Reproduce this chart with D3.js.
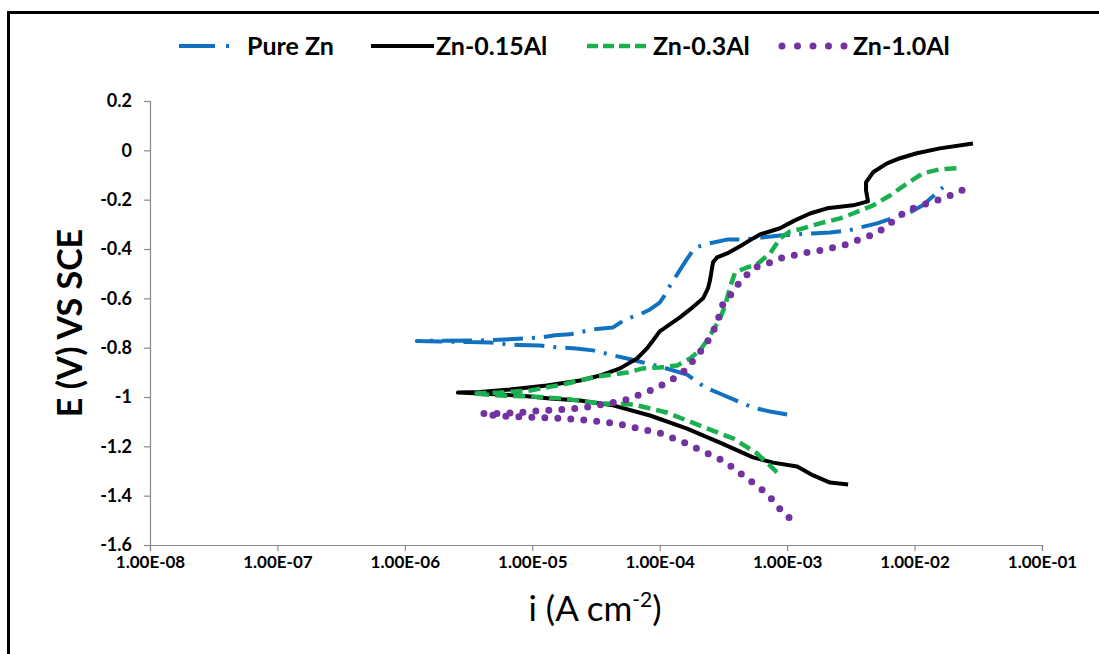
<!DOCTYPE html>
<html>
<head>
<meta charset="utf-8">
<script src="https://cdn.jsdelivr.net/npm/d3@7/dist/d3.min.js"></script>
<style>
  html, body { margin: 0; padding: 0; background: #fff; }
  svg { display: block; }
</style>
</head>
<body>
<svg id="chart" width="1099" height="654"></svg>
<script>
// Potentiodynamic polarization curves: [current density (A cm-2), potential (V vs SCE)]
// Each curve runs from the cathodic end, through Ecorr, up the anodic branch.
const pureZn = [
  [1.00e-3,-1.071],[7.35e-4,-1.059],[5.40e-4,-1.043],[4.12e-4,-1.018],[3.08e-4,-0.990],
  [2.27e-4,-0.961],[1.64e-4,-0.909],[1.00e-4,-0.876],[7.39e-5,-0.860],[5.54e-5,-0.844],
  [4.07e-5,-0.828],[2.99e-5,-0.811],[2.20e-5,-0.803],[1.59e-5,-0.799],[1.15e-5,-0.791],
  [8.00e-6,-0.789],[6.44e-6,-0.787],[4.66e-6,-0.779],[3.24e-6,-0.777],[1.89e-6,-0.775],
  [1.24e-6,-0.773],
  [1.89e-6,-0.772],[3.24e-6,-0.771],[4.66e-6,-0.770],[6.11e-6,-0.767],[8.45e-6,-0.763],
  [1.15e-5,-0.759],[1.51e-5,-0.750],[1.98e-5,-0.746],[2.99e-5,-0.726],[4.30e-5,-0.718],
  [5.34e-5,-0.686],[7.00e-5,-0.665],[8.39e-5,-0.645],[1.00e-4,-0.617],[1.08e-4,-0.592],
  [1.14e-4,-0.568],[1.34e-4,-0.511],[1.61e-4,-0.446],[1.89e-4,-0.394],[2.48e-4,-0.377],
  [3.44e-4,-0.361],[4.67e-4,-0.361],[8.80e-4,-0.345],[1.57e-3,-0.337],[2.17e-3,-0.333],
  [3.01e-3,-0.325],[3.54e-3,-0.316],[5.08e-3,-0.296],[7.03e-3,-0.272],[9.22e-3,-0.252],
  [1.16e-2,-0.223],[1.39e-2,-0.187],[1.67e-2,-0.150]
];

const zn015Al = [
  [3.01e-3,-1.355],[2.17e-3,-1.347],[1.60e-3,-1.318],[1.20e-3,-1.282],[7.75e-4,-1.266],
  [5.40e-4,-1.245],[2.97e-4,-1.185],[1.64e-4,-1.128],[8.39e-5,-1.075],[4.30e-5,-1.034],
  [2.37e-5,-1.014],[1.38e-5,-1.006],[8.00e-6,-0.994],[3.88e-6,-0.986],[2.61e-6,-0.982],
  [3.88e-6,-0.980],[6.68e-6,-0.970],[1.30e-5,-0.953],[2.37e-5,-0.933],[3.40e-5,-0.913],
  [4.88e-5,-0.884],[6.64e-5,-0.844],[7.94e-5,-0.803],[8.86e-5,-0.771],[1.00e-4,-0.734],
  [1.14e-4,-0.714],[1.44e-4,-0.677],[1.73e-4,-0.645],[2.19e-4,-0.600],[2.39e-4,-0.560],
  [2.48e-4,-0.527],[2.62e-4,-0.454],[2.82e-4,-0.434],[3.38e-4,-0.418],[4.27e-4,-0.389],
  [5.40e-4,-0.357],[6.12e-4,-0.341],[8.80e-4,-0.316],[1.15e-3,-0.284],[1.51e-3,-0.256],
  [2.06e-3,-0.235],[3.29e-3,-0.223],[4.31e-3,-0.207],[4.16e-3,-0.162],[4.16e-3,-0.130],
  [4.72e-3,-0.089],[6.08e-3,-0.053],[7.69e-3,-0.032],[1.04e-2,-0.012],[1.58e-2,0.008],
  [2.87e-2,0.028]
];

const zn03Al = [
  [8.33e-4,-1.306],[7.35e-4,-1.278],[5.80e-4,-1.229],[3.76e-4,-1.168],[2.07e-4,-1.116],
  [1.14e-4,-1.063],[6.17e-5,-1.030],[3.40e-5,-1.026],[1.74e-5,-1.006],[9.59e-6,-0.998],
  [5.58e-6,-0.994],[3.42e-6,-0.986],
  [5.58e-6,-0.982],[9.59e-6,-0.974],[1.74e-5,-0.949],[3.22e-5,-0.917],[5.54e-5,-0.901],
  [7.39e-5,-0.884],[1.00e-4,-0.880],[1.37e-4,-0.872],[1.73e-4,-0.844],[2.07e-4,-0.811],
  [2.35e-4,-0.771],[2.62e-4,-0.730],[2.97e-4,-0.682],[3.26e-4,-0.629],[3.56e-4,-0.556],
  [3.90e-4,-0.495],[4.84e-4,-0.475],[5.80e-4,-0.462],[7.35e-4,-0.418],[8.80e-4,-0.357],
  [1.05e-3,-0.329],[1.26e-3,-0.320],[1.81e-3,-0.296],[2.60e-3,-0.276],[3.29e-3,-0.256],
  [4.72e-3,-0.223],[6.42e-3,-0.183],[8.73e-3,-0.134],[1.16e-2,-0.093],[1.58e-2,-0.077],
  [2.15e-2,-0.073]
];

const zn10Al = [
  [1.035e-3,-1.489],[9.12e-4,-1.465],[8.49e-4,-1.444],[7.75e-4,-1.420],[6.95e-4,-1.392],
  [5.91e-4,-1.363],[5.02e-4,-1.335],[4.19e-4,-1.306],[3.56e-4,-1.278],[3.03e-4,-1.254],
  [2.48e-4,-1.233],[2.03e-4,-1.213],[1.64e-4,-1.189],[1.29e-4,-1.168],[1.04e-4,-1.148],
  [8.71e-5,-1.140],[6.88e-5,-1.128],[5.85e-5,-1.120],[4.71e-5,-1.108],[3.72e-5,-1.103],
  [2.84e-5,-1.095],[1.74e-5,-1.087],[1.15e-5,-1.083],[6.68e-6,-1.079],[5.10e-6,-1.075],
  [4.03e-6,-1.067],
  [5.58e-6,-1.067],[8.00e-6,-1.063],[1.15e-5,-1.055],[1.65e-5,-1.051],[2.59e-5,-1.043],
  [3.59e-5,-1.030],[4.88e-5,-1.018],[5.85e-5,-1.006],[7.26e-5,-0.986],[8.86e-5,-0.970],
  [1.10e-4,-0.945],[1.37e-4,-0.917],[1.58e-4,-0.892],[1.83e-4,-0.852],[2.07e-4,-0.819],
  [2.27e-4,-0.787],[2.57e-4,-0.751],[2.77e-4,-0.702],[2.97e-4,-0.665],[3.14e-4,-0.621],
  [3.69e-4,-0.580],[4.04e-4,-0.548],[4.67e-4,-0.511],[5.60e-4,-0.475],[7.08e-4,-0.458],
  [8.80e-4,-0.438],[1.11e-3,-0.426],[1.43e-3,-0.414],[1.81e-3,-0.406],[2.29e-3,-0.394],
  [2.95e-3,-0.381],[3.73e-3,-0.361],[4.72e-3,-0.341],[5.76e-3,-0.316],[7.03e-3,-0.280],
  [8.58e-3,-0.247],[1.06e-2,-0.227],[1.35e-2,-0.211],[1.67e-2,-0.195],[2.11e-2,-0.174],
  [2.62e-2,-0.150]
];

const seriesNames = ["Pure Zn", "Zn-0.15Al", "Zn-0.3Al", "Zn-1.0Al"];
const seriesData = [pureZn, zn015Al, zn03Al, zn10Al];

const xTickValues = [1e-8, 1e-7, 1e-6, 1e-5, 1e-4, 1e-3, 1e-2, 1e-1];
const xTickLabels = ["1.00E-08","1.00E-07","1.00E-06","1.00E-05","1.00E-04","1.00E-03","1.00E-02","1.00E-01"];
const yTickValues = [0.2, 0, -0.2, -0.4, -0.6, -0.8, -1, -1.2, -1.4, -1.6];
const yTickLabels = ["0.2","0","-0.2","-0.4","-0.6","-0.8","-1","-1.2","-1.4","-1.6"];

// Line styles per series
const styles = [
  { color: "#1272c2", width: 4,   dash: "30 9 3 9",   cap: "butt",  legendDash: "36 11 3 11" },
  { color: "#000000", width: 4,   dash: null,         cap: "butt",  legendDash: null },
  { color: "#19b04f", width: 4.5, dash: "12 6",       cap: "butt",  legendDash: "11 5" },
  { color: "#7232a0", width: 7,   dash: "0 13",       cap: "round", legendDash: "0 15.5" }
];

const svg = d3.select("#chart");
const font = "Lato, 'Open Sans', 'Liberation Sans', sans-serif";

// Plot area
const plot = { left: 150, right: 1042, top: 101, bottom: 545 };

const x = d3.scaleLog().domain([1e-8, 1e-1]).range([plot.left, plot.right]);
const y = d3.scaleLinear().domain([-1.6, 0.2]).range([plot.bottom, plot.top]);

// Outer frame (left and top edges)
svg.append("path")
  .attr("d", "M8.5,654 L8.5,12.5 L1099,12.5")
  .attr("fill", "none").attr("stroke", "#000").attr("stroke-width", 3);

const axisColor = "#8a8a8a";

// Y axis
const yAxis = svg.append("g")
  .attr("transform", `translate(${plot.left},0)`)
  .call(d3.axisLeft(y).tickValues(yTickValues)
    .tickFormat((d, i) => yTickLabels[i]).tickSize(6).tickPadding(12));
yAxis.select(".domain").attr("stroke", axisColor).attr("stroke-width", 1.2);
yAxis.selectAll(".tick line").attr("stroke", axisColor).attr("stroke-width", 1.2);
yAxis.selectAll(".tick text")
  .attr("font-family", font).attr("font-weight", "bold").attr("font-size", 18)
  .attr("fill", "#000");

// X axis
const xAxis = svg.append("g")
  .attr("transform", `translate(0,${plot.bottom})`)
  .call(d3.axisBottom(x).tickValues(xTickValues)
    .tickFormat((d, i) => xTickLabels[i]).tickSize(6).tickPadding(5));
xAxis.select(".domain").attr("stroke", axisColor).attr("stroke-width", 1.2);
xAxis.selectAll(".tick line").attr("stroke", axisColor).attr("stroke-width", 1.2);
xAxis.selectAll(".tick text")
  .attr("font-family", font).attr("font-weight", "bold").attr("font-size", 17)
  .attr("fill", "#000");

// Axis titles
svg.append("text")
  .attr("transform", `translate(82,323) rotate(-90)`)
  .attr("text-anchor", "middle")
  .attr("font-family", font).attr("font-weight", "bold").attr("font-size", 34)
  .attr("fill", "#000")
  .text("E (V) VS SCE");

const xt = svg.append("text")
  .attr("x", 595).attr("y", 621)
  .attr("text-anchor", "middle")
  .attr("font-family", font).attr("font-size", 35)
  .attr("fill", "#000");
xt.append("tspan").text("i (A cm");
xt.append("tspan").attr("font-size", 21).attr("dy", -14).text("-2");
xt.append("tspan").attr("dy", 14).text(")");

// Curves
const line = d3.line().x(d => x(d[0])).y(d => y(d[1]));
seriesData.forEach((data, k) => {
  const s = styles[k];
  svg.append("path")
    .datum(data)
    .attr("d", line)
    .attr("fill", "none")
    .attr("stroke", s.color)
    .attr("stroke-width", s.width)
    .attr("stroke-linecap", s.cap)
    .attr("stroke-linejoin", "round")
    .attr("stroke-dasharray", s.dash);
});

// Legend
const legendItems = [
  { x0: 179, x1: 230, tx: 247 },
  { x0: 371, x1: 434, tx: 436 },
  { x0: 587, x1: 647, tx: 653 },
  { x0: 782, x1: 845, tx: 853 }
];
const legendY = 46;
const legend = svg.append("g");
seriesNames.forEach((name, k) => {
  const s = styles[k];
  const it = legendItems[k];
  legend.append("line")
    .attr("x1", it.x0).attr("x2", it.x1)
    .attr("y1", legendY).attr("y2", legendY)
    .attr("stroke", s.color)
    .attr("stroke-width", s.width)
    .attr("stroke-linecap", s.cap)
    .attr("stroke-dasharray", s.legendDash);
  legend.append("text")
    .attr("x", it.tx).attr("y", legendY + 9)
    .attr("font-family", font).attr("font-weight", "bold").attr("font-size", 25)
    .attr("fill", "#000")
    .text(name);
});
</script>
</body>
</html>
